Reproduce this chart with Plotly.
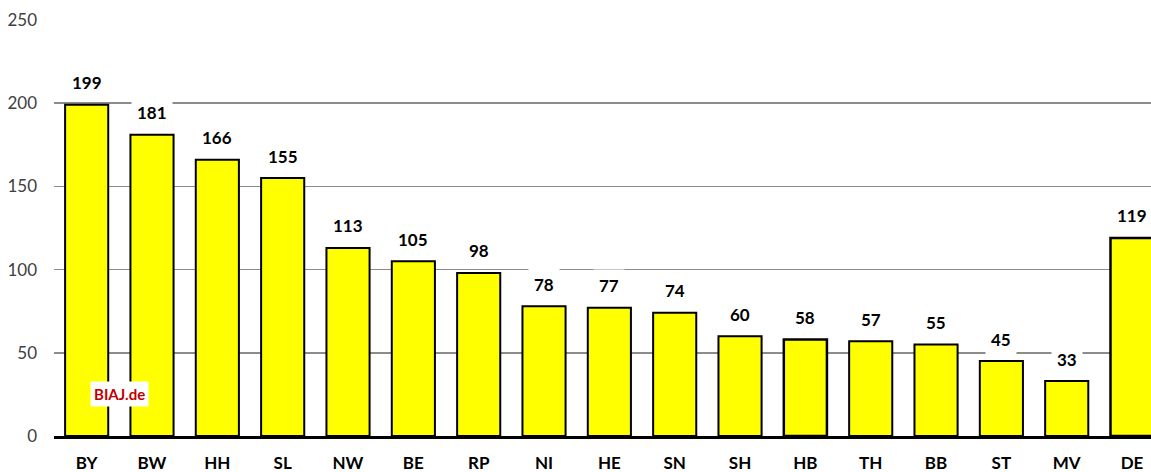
import plotly.graph_objects as go

categories = ["BY", "BW", "HH", "SL", "NW", "BE", "RP", "NI", "HE", "SN",
              "SH", "HB", "TH", "BB", "ST", "MV", "DE"]
values = [199, 181, 166, 155, 113, 105, 98, 78, 77, 74, 60, 58, 57, 55, 45, 33, 119]
y_ticks = [0, 50, 100, 150, 200, 250]
watermark = "BIAJ.de"

FONT = "Lato, 'Open Sans', sans-serif"

line_widths = [2.5 if c in ("HB", "DE") else 2 for c in categories]

fig = go.Figure()
fig.add_trace(go.Bar(
    x=list(range(len(categories))),
    y=values,
    marker=dict(color="#ffff00", line=dict(color="#000000", width=line_widths)),
    width=0.66,
    hoverinfo="skip",
))

for i, v in enumerate(values):
    fig.add_annotation(
        x=i, y=v, xref="x", yref="y",
        text=f"<b>{v}</b>", showarrow=False,
        yanchor="middle", yshift=22,
        font=dict(family=FONT, size=17, color="#000000"),
        bgcolor="#ffffff", borderpad=5,
    )

fig.add_annotation(
    x=0.5, y=25, xref="x", yref="y",
    text=f"<b>{watermark}</b>", showarrow=False,
    font=dict(family=FONT, size=15, color="#c00000"),
    bgcolor="#ffffff", borderpad=3,
)

fig.update_layout(
    width=1151, height=472,
    margin=dict(l=54, r=0, t=20, b=36, autoexpand=False),
    paper_bgcolor="#ffffff", plot_bgcolor="#ffffff",
    showlegend=False,
    hovermode=False,
    font=dict(family=FONT),
    xaxis=dict(
        range=[-0.5, 16.29],
        tickmode="array",
        tickvals=list(range(len(categories))),
        ticktext=[f"<b>{c}</b>" for c in categories],
        tickfont=dict(family=FONT, size=17, color="#000000"),
        showgrid=False, zeroline=False,
        showline=True, linecolor="#000000", linewidth=2.5,
        ticks="", ticklabelstandoff=10,
    ),
    yaxis=dict(
        range=[0, 250],
        tickmode="array", tickvals=y_ticks,
        tickfont=dict(family=FONT, size=17, color="#404040"),
        showgrid=True, gridcolor="#8c8c8c", gridwidth=1.5,
        zeroline=False, showline=False,
        ticks="", ticklabelstandoff=16,
    ),
)

fig.write_html(
    "out.html",
    config={"displayModeBar": False, "staticPlot": True},
    post_script="document.body.style.margin='0';document.body.style.overflow='hidden';",
)
